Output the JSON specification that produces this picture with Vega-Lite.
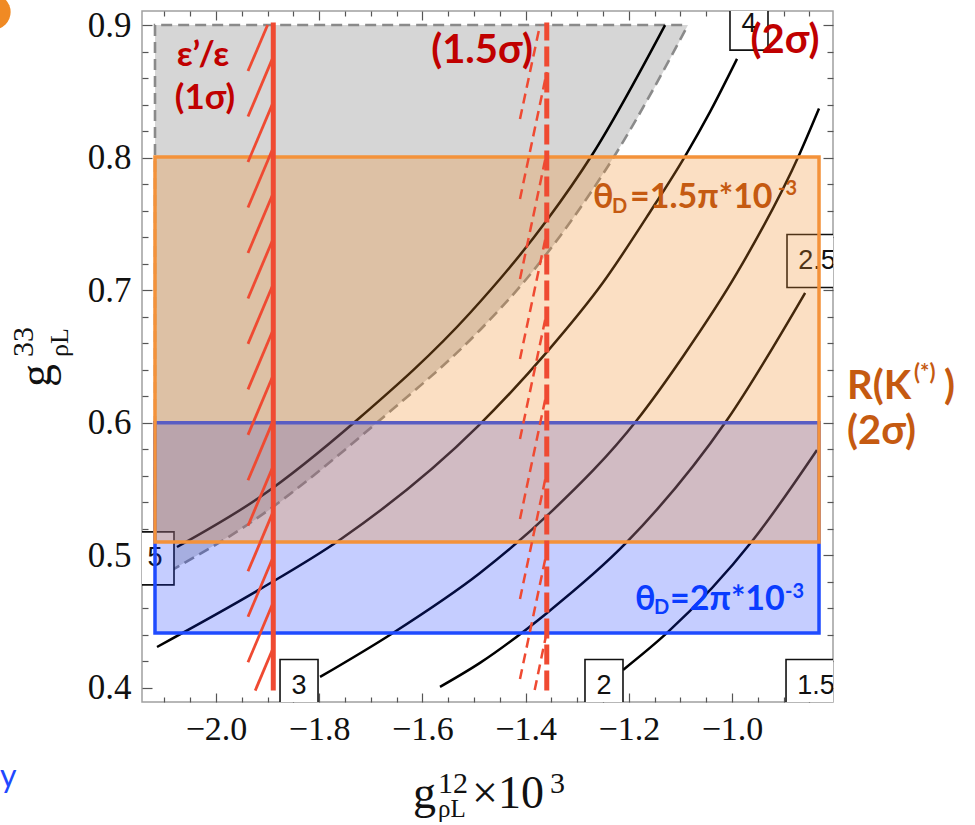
{
  "$schema": "https://vega.github.io/schema/vega-lite/v6.json",
  "width": 691,
  "height": 691,
  "autosize": {"type": "none"},
  "padding": {"left": 142, "top": 11, "right": 142, "bottom": 123},
  "background": "white",
  "config": {
    "view": {"stroke": "#a0a0a0", "strokeWidth": 1.5},
    "axis": {"grid": false, "domain": false, "tickColor": "#555555", "tickWidth": 1.2, "labelOverlap": false, "labelFlush": false, "labelBound": false}
  },
  "datasets": {
    "contours": [
      {"level": "5", "x": -2.0756, "y": 0.5063}, {"level": "5", "x": -1.9147, "y": 0.544}, {"level": "5", "x": -1.7267, "y": 0.6021}, {"level": "5", "x": -1.5078, "y": 0.6828}, {"level": "5", "x": -1.3585, "y": 0.7529}, {"level": "5", "x": -1.2713, "y": 0.802}, {"level": "5", "x": -1.1298, "y": 0.9},
      {"level": "4", "x": -2.1143, "y": 0.4309}, {"level": "4", "x": -1.9147, "y": 0.4745}, {"level": "4", "x": -1.7597, "y": 0.5118}, {"level": "4", "x": -1.4922, "y": 0.5975}, {"level": "4", "x": -1.3585, "y": 0.6535}, {"level": "4", "x": -1.25, "y": 0.7058}, {"level": "4", "x": -1.1589, "y": 0.759}, {"level": "4", "x": -1.0911, "y": 0.801}, {"level": "4", "x": -1.0426, "y": 0.8345}, {"level": "4", "x": -0.9903, "y": 0.8745},
      {"level": "3", "x": -1.7984, "y": 0.4083}, {"level": "3", "x": -1.657, "y": 0.4415}, {"level": "3", "x": -1.4884, "y": 0.4867}, {"level": "3", "x": -1.3527, "y": 0.532}, {"level": "3", "x": -1.1841, "y": 0.6021}, {"level": "3", "x": -1.095, "y": 0.65}, {"level": "3", "x": -0.9903, "y": 0.713}, {"level": "3", "x": -0.8682, "y": 0.8035}, {"level": "3", "x": -0.8314, "y": 0.837},
      {"level": "2.5", "x": -1.5659, "y": 0.4008}, {"level": "2.5", "x": -1.4884, "y": 0.4189}, {"level": "2.5", "x": -1.3585, "y": 0.4566}, {"level": "2.5", "x": -1.2035, "y": 0.5101}, {"level": "2.5", "x": -1.0097, "y": 0.6021}, {"level": "2.5", "x": -0.8585, "y": 0.6979},
      {"level": "2", "x": -1.2112, "y": 0.4136}, {"level": "2", "x": -1.126, "y": 0.4415}, {"level": "2", "x": -0.9593, "y": 0.5116}, {"level": "2", "x": -0.8353, "y": 0.5795}
    ],
    "grayCurve": [
      {"x": -2.1182, "y": 0.4815}, {"x": -2.1085, "y": 0.4837}, {"x": -1.9341, "y": 0.5244}, {"x": -1.6822, "y": 0.6021}, {"x": -1.4884, "y": 0.67}, {"x": -1.405, "y": 0.7054}, {"x": -1.2267, "y": 0.802}, {"x": -1.0853, "y": 0.9}
    ],
    "grayEdge": [
      {"o": 1, "x": -2.1182, "y": 0.4815}, {"o": 2, "x": -2.1182, "y": 0.9}, {"o": 3, "x": -1.0853, "y": 0.9}
    ],
    "boxes1": [
      {"t": "5", "x": -2.1182, "y": 0.4977}, {"t": "4", "x": -0.9671, "y": 0.9011}, {"t": "3", "x": -1.8391, "y": 0.4015}, {"t": "2", "x": -1.2481, "y": 0.4015}
    ],
    "boxes3": [
      {"t": "2.5", "x": -0.8353, "y": 0.722}, {"t": "1.5", "x": -0.8372, "y": 0.4015}
    ],
    "redHatch": [
      {"x": -1.938, "y": 0.8653, "x2": -1.9, "y2": 0.9},
      {"x": -1.938, "y": 0.831, "x2": -1.889, "y2": 0.8762},
      {"x": -1.938, "y": 0.7967, "x2": -1.889, "y2": 0.8419},
      {"x": -1.938, "y": 0.7624, "x2": -1.889, "y2": 0.8076},
      {"x": -1.938, "y": 0.7281, "x2": -1.889, "y2": 0.7733},
      {"x": -1.938, "y": 0.6938, "x2": -1.889, "y2": 0.739},
      {"x": -1.938, "y": 0.6595, "x2": -1.889, "y2": 0.7047},
      {"x": -1.938, "y": 0.6252, "x2": -1.889, "y2": 0.6704},
      {"x": -1.938, "y": 0.5909, "x2": -1.889, "y2": 0.6361},
      {"x": -1.938, "y": 0.5566, "x2": -1.889, "y2": 0.6018},
      {"x": -1.938, "y": 0.5223, "x2": -1.889, "y2": 0.5675},
      {"x": -1.938, "y": 0.488, "x2": -1.889, "y2": 0.5332},
      {"x": -1.938, "y": 0.4537, "x2": -1.889, "y2": 0.4989},
      {"x": -1.938, "y": 0.4194, "x2": -1.889, "y2": 0.4646},
      {"x": -1.924, "y": 0.398, "x2": -1.889, "y2": 0.4303}
    ],
    "dashHatch": [
      {"x": -1.4109, "y": 0.8291, "x2": -1.3721, "y2": 0.9},
      {"x": -1.4109, "y": 0.7688, "x2": -1.359, "y2": 0.8646},
      {"x": -1.4109, "y": 0.7084, "x2": -1.359, "y2": 0.8042},
      {"x": -1.4109, "y": 0.6481, "x2": -1.359, "y2": 0.7439},
      {"x": -1.4109, "y": 0.5877, "x2": -1.359, "y2": 0.6835},
      {"x": -1.4109, "y": 0.5274, "x2": -1.359, "y2": 0.6232},
      {"x": -1.4109, "y": 0.4671, "x2": -1.359, "y2": 0.5629},
      {"x": -1.4109, "y": 0.4068, "x2": -1.359, "y2": 0.5026},
      {"x": -1.3824, "y": 0.3985, "x2": -1.359, "y2": 0.4422}
    ]
  },
  "layer": [
    {
      "encoding": {
        "x": {"field": "x", "type": "quantitative", "title": null,
          "scale": {"domain": [-2.1434, -0.8043], "nice": false, "zero": false},
          "axis": {"orient": "bottom",
            "values": [-2.1, -2.05, -2, -1.95, -1.9, -1.85, -1.8, -1.75, -1.7, -1.65, -1.6, -1.55, -1.5, -1.45, -1.4, -1.35, -1.3, -1.25, -1.2, -1.15, -1.1, -1.05, -1, -0.95, -0.9, -0.85],
            "labelExpr": "abs(datum.value/0.2 - round(datum.value/0.2)) < 0.01 ? format(datum.value, '.1f') : ''",
            "tickSize": {"condition": {"test": "abs(datum.value/0.2 - round(datum.value/0.2)) < 0.01", "value": -9}, "value": -5},
            "labelFont": "Liberation Serif", "labelFontSize": 34, "labelColor": "#111111", "labelPadding": 19}},
        "y": {"field": "y", "type": "quantitative", "title": null,
          "scale": {"domain": [0.3894, 0.9106], "nice": false, "zero": false},
          "axis": {"orient": "left",
            "values": [0.4, 0.42, 0.44, 0.46, 0.48, 0.5, 0.52, 0.54, 0.56, 0.58, 0.6, 0.62, 0.64, 0.66, 0.68, 0.7, 0.72, 0.74, 0.76, 0.78, 0.8, 0.82, 0.84, 0.86, 0.88, 0.9],
            "labelExpr": "abs(datum.value/0.1 - round(datum.value/0.1)) < 0.01 ? format(datum.value, '.1f') : ''",
            "tickSize": {"condition": {"test": "abs(datum.value/0.1 - round(datum.value/0.1)) < 0.01", "value": -10}, "value": -6},
            "labelFont": "Liberation Serif", "labelFontSize": 35, "labelColor": "#111111", "labelPadding": 21}}
      },
      "layer": [
        {"data": {"name": "grayCurve"}, "mark": {"type": "area", "orient": "horizontal", "interpolate": "monotone", "color": "#d6d6d6", "opacity": 1},
          "encoding": {"x": {"field": "x", "type": "quantitative", "stack": null}, "x2": {"datum": -2.1182}}},
        {"data": {"name": "grayCurve"}, "mark": {"type": "line", "interpolate": "monotone", "color": "#8a8a8a", "strokeWidth": 2.6, "strokeDash": [11, 6]}, "encoding": {}},
        {"data": {"name": "grayEdge"}, "mark": {"type": "line", "color": "#8a8a8a", "strokeWidth": 2.6, "strokeDash": [11, 6]}, "encoding": {"order": {"field": "o"}}},
        {"data": {"name": "contours"}, "mark": {"type": "line", "interpolate": "monotone", "color": "#000000", "strokeWidth": 2.5}, "encoding": {"detail": {"field": "level"}}},
        {"data": {"name": "boxes1"}, "mark": {"type": "point", "shape": "M-0.717,-1H0.717V1H-0.717Z", "size": 2809, "fill": "white", "stroke": "#111111", "strokeWidth": 1.6, "opacity": 1, "filled": true, "clip": true}, "encoding": {}},
        {"data": {"name": "boxes3"}, "mark": {"type": "point", "shape": "M-1.132,-1H1.132V1H-1.132Z", "size": 2809, "fill": "white", "stroke": "#111111", "strokeWidth": 1.6, "opacity": 1, "filled": true, "clip": true}, "encoding": {}},
        {"data": {"name": "boxes1"}, "mark": {"type": "text", "font": "Liberation Sans", "fontSize": 27, "color": "#111111", "align": "center", "baseline": "middle", "clip": true}, "encoding": {"text": {"field": "t"}}},
        {"data": {"name": "boxes3"}, "mark": {"type": "text", "font": "Liberation Sans", "fontSize": 27, "color": "#111111", "align": "center", "baseline": "middle", "clip": true}, "encoding": {"text": {"field": "t"}}},
        {"data": {"values": [{"x": -2.1182, "x2": -0.8314, "y": 0.4415, "y2": 0.6}]}, "mark": {"type": "rect", "fill": "#1030ff", "fillOpacity": 0.245, "stroke": "#1f4bff", "strokeWidth": 3.5},
          "encoding": {"x2": {"field": "x2"}, "y2": {"field": "y2"}}},
        {"data": {"values": [{"x": -2.1182, "x2": -0.8314, "y": 0.5101, "y2": 0.8005}]}, "mark": {"type": "rect", "fill": "#f08c28", "fillOpacity": 0.28, "stroke": "#f4923a", "strokeWidth": 3.5},
          "encoding": {"x2": {"field": "x2"}, "y2": {"field": "y2"}}},
        {"data": {"name": "redHatch"}, "mark": {"type": "rule", "color": "#ef4a32", "strokeWidth": 2.8}, "encoding": {"x2": {"field": "x2"}, "y2": {"field": "y2"}}},
        {"data": {"values": [{"x": -1.889, "y": 0.398, "y2": 0.902}]}, "mark": {"type": "rule", "color": "#ef4a32", "strokeWidth": 5}, "encoding": {"y2": {"field": "y2"}}},
        {"data": {"name": "dashHatch"}, "mark": {"type": "rule", "color": "#ef4a32", "strokeWidth": 2.5, "strokeDash": [10, 6]}, "encoding": {"x2": {"field": "x2"}, "y2": {"field": "y2"}}},
        {"data": {"values": [{"x": -1.359, "y": 0.398, "y2": 0.902}]}, "mark": {"type": "rule", "color": "#ef4a32", "strokeWidth": 5, "strokeDash": [20, 6]}, "encoding": {"y2": {"field": "y2"}}},
        {"data": {"values": [{"t": "ε’/ε", "x": -2.0252, "y": 0.8774}, {"t": "(1σ)", "x": -2.0213, "y": 0.8449}]},
          "mark": {"type": "text", "font": "Lato", "fontWeight": "bold", "fontSize": 35, "color": "#c00000", "align": "center", "baseline": "middle"}, "encoding": {"text": {"field": "t"}}},
        {"data": {"values": [{"t": "(1.5σ)", "x": -1.4845, "y": 0.8804}, {"t": "(2σ)", "x": -0.8973, "y": 0.8879}]},
          "mark": {"type": "text", "font": "Lato", "fontWeight": "bold", "fontSize": 40, "color": "#c00000", "align": "center", "baseline": "middle"}, "encoding": {"text": {"field": "t"}}},
        {"data": {"values": [{"t": "θ", "x": -1.2694, "y": 0.7695}, {"t": "=1.5π*10", "x": -1.1977, "y": 0.7695}]},
          "mark": {"type": "text", "font": "Lato", "fontWeight": "bold", "fontSize": 34, "color": "#c55a11", "align": "left", "baseline": "middle"}, "encoding": {"text": {"field": "t"}}},
        {"data": {"values": [{"t": "R(K", "x": -0.7771, "y": 0.627}, {"t": ")", "x": -0.5892, "y": 0.627}, {"t": "(2σ)", "x": -0.7771, "y": 0.5931}]},
          "mark": {"type": "text", "font": "Lato", "fontWeight": "bold", "fontSize": 40, "color": "#c55a11", "align": "left", "baseline": "middle"}, "encoding": {"text": {"field": "t"}}},
        {"data": {"values": [{"t": "D", "x": -1.2326, "y": 0.7627}, {"t": "-3", "x": -0.9109, "y": 0.7763}]},
          "mark": {"type": "text", "font": "Lato", "fontWeight": "bold", "fontSize": 20, "color": "#c55a11", "align": "left", "baseline": "middle"}, "encoding": {"text": {"field": "t"}}},
        {"data": {"values": [{"t": "(*)", "x": -0.6473, "y": 0.6376}]},
          "mark": {"type": "text", "font": "Lato", "fontWeight": "bold", "fontSize": 22, "color": "#c55a11", "align": "left", "baseline": "middle"}, "encoding": {"text": {"field": "t"}}},
        {"data": {"values": [{"t": "θ", "x": -1.188, "y": 0.4664}, {"t": "=2π*10", "x": -1.1202, "y": 0.4664}]},
          "mark": {"type": "text", "font": "Lato", "fontWeight": "bold", "fontSize": 34, "color": "#0a3cff", "align": "left", "baseline": "middle"}, "encoding": {"text": {"field": "t"}}},
        {"data": {"values": [{"t": "D", "x": -1.1511, "y": 0.4603}, {"t": "-3", "x": -0.8973, "y": 0.4724}]},
          "mark": {"type": "text", "font": "Lato", "fontWeight": "bold", "fontSize": 20, "color": "#0a3cff", "align": "left", "baseline": "middle"}, "encoding": {"text": {"field": "t"}}},
        {"data": {"values": [{"t": "g", "x": -1.6182, "y": 0.3095}, {"t": "×10", "x": -1.5039, "y": 0.3095}]},
          "mark": {"type": "text", "font": "Liberation Serif", "fontSize": 46, "color": "#111111", "align": "left", "baseline": "alphabetic"}, "encoding": {"text": {"field": "t"}}},
        {"data": {"values": [{"t": "12", "x": -1.5698, "y": 0.3208}, {"t": "3", "x": -1.3527, "y": 0.3208}]},
          "mark": {"type": "text", "font": "Liberation Serif", "fontSize": 30, "color": "#111111", "align": "left", "baseline": "alphabetic"}, "encoding": {"text": {"field": "t"}}},
        {"data": {"values": [{"t": "ρL", "x": -1.5698, "y": 0.3027}]},
          "mark": {"type": "text", "font": "Liberation Serif", "fontSize": 25, "color": "#111111", "align": "left", "baseline": "alphabetic"}, "encoding": {"text": {"field": "t"}}},
        {"data": {"values": [{"t": "g", "x": -2.3198, "y": 0.627}]},
          "mark": {"type": "text", "font": "Liberation Serif", "fontSize": 46, "color": "#111111", "align": "left", "baseline": "alphabetic", "angle": -90}, "encoding": {"text": {"field": "t"}}},
        {"data": {"values": [{"t": "33", "x": -2.3547, "y": 0.6496}]},
          "mark": {"type": "text", "font": "Liberation Serif", "fontSize": 30, "color": "#111111", "align": "left", "baseline": "alphabetic", "angle": -90}, "encoding": {"text": {"field": "t"}}},
        {"data": {"values": [{"t": "ρL", "x": -2.2868, "y": 0.6496}]},
          "mark": {"type": "text", "font": "Liberation Serif", "fontSize": 26, "color": "#111111", "align": "left", "baseline": "alphabetic", "angle": -90}, "encoding": {"text": {"field": "t"}}},
        {"data": {"values": [{"t": "y", "x": -2.4186, "y": 0.3253}]},
          "mark": {"type": "text", "font": "Lato", "fontSize": 32, "color": "#1f49ff", "align": "left", "baseline": "alphabetic"}, "encoding": {"text": {"field": "t"}}},
        {"data": {"values": [{"x": -2.4322, "y": 0.9098}]},
          "mark": {"type": "point", "shape": "circle", "size": 1250, "filled": true, "color": "#f08a24", "opacity": 1}, "encoding": {}}
      ]
    },
    {
      "data": {"values": [{"x": -2.0, "y": 0.5}]},
      "mark": {"type": "point", "opacity": 0},
      "encoding": {
        "x": {"field": "x", "type": "quantitative", "title": null,
          "scale": {"domain": [-2.1434, -0.8043], "nice": false, "zero": false},
          "axis": {"orient": "top", "labels": false,
            "values": [-2.1, -2.05, -2, -1.95, -1.9, -1.85, -1.8, -1.75, -1.7, -1.65, -1.6, -1.55, -1.5, -1.45, -1.4, -1.35, -1.3, -1.25, -1.2, -1.15, -1.1, -1.05, -1, -0.95, -0.9, -0.85],
            "tickSize": {"condition": {"test": "abs(datum.value/0.2 - round(datum.value/0.2)) < 0.01", "value": -9}, "value": -5}}},
        "y": {"field": "y", "type": "quantitative", "title": null,
          "scale": {"domain": [0.3894, 0.9106], "nice": false, "zero": false},
          "axis": {"orient": "right", "labels": false,
            "values": [0.4, 0.42, 0.44, 0.46, 0.48, 0.5, 0.52, 0.54, 0.56, 0.58, 0.6, 0.62, 0.64, 0.66, 0.68, 0.7, 0.72, 0.74, 0.76, 0.78, 0.8, 0.82, 0.84, 0.86, 0.88, 0.9],
            "tickSize": {"condition": {"test": "abs(datum.value/0.1 - round(datum.value/0.1)) < 0.01", "value": -10}, "value": -6}}}
      }
    }
  ],
  "resolve": {"axis": {"x": "independent", "y": "independent"}}
}
